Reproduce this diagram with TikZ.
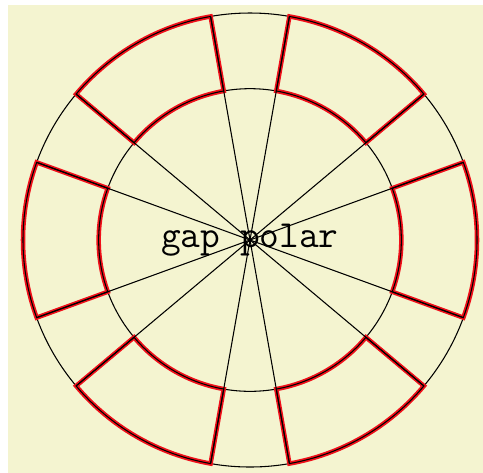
\documentclass[tikz,border=0pt]{standalone}
\usepackage{xcolor}
\usepackage{tikz}
\definecolor{paper}{HTML}{F4F4D0}
\definecolor{hilite}{HTML}{F0101A}

\begin{document}
\begin{tikzpicture}[
      ring/.style={draw=black, line width=0.4pt},
      spoke/.style={draw=black, line width=0.4pt},
      sector/.style={draw=black, line width=0.4pt,
                     preaction={draw=hilite, line width=1.7pt}},
      lbl/.style={font=\Large\ttfamily, inner sep=0pt}]
    \useasboundingbox (-3.304,-3.079) rectangle (3.079,3.172);
    \fill[paper] (-3.198,-3.079) rectangle (3.079,3.106);

    \coordinate (o) at (0,0);
    \node[lbl] (title) at (o) {gap polar};

    % full rings
    \draw[ring] (o) circle (2cm);
    \draw[ring] (o) circle (3cm);

    % highlighted pieces, one every 60 degrees
    \foreach \a in {0,60,...,300} {
      \draw[sector] ({\a-20}:3) arc[start angle=\a-20, end angle=\a+20, radius=3]
        -- ({\a+20}:2) arc[start angle=\a+20, end angle=\a-20, radius=2] -- cycle;
      \draw[spoke] (o) -- ({\a-20}:3);
      \draw[spoke] (o) -- ({\a+20}:3);
    }
  \end{tikzpicture}
\end{document}
